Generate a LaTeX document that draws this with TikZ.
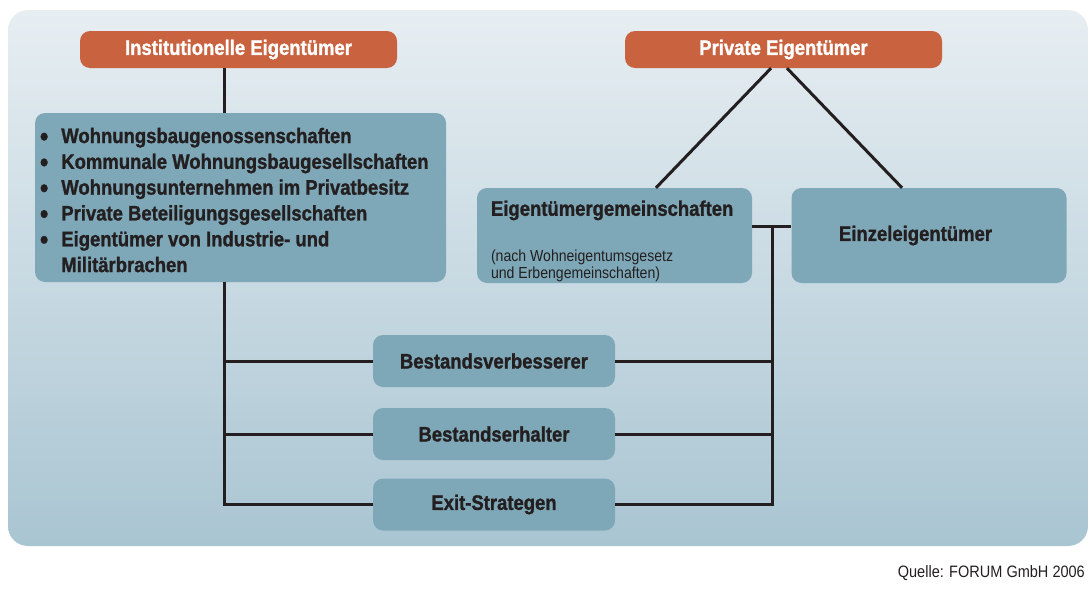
\documentclass[tikz,border=0pt]{standalone}
\usepackage{fontspec}
\setmainfont{Liberation Sans}[FakeStretch=0.88, BoldFeatures={FakeBold=1.2}]
\usetikzlibrary{calc}
\definecolor{kopfrot}{HTML}{C8623F}
\definecolor{kastenblau}{HTML}{7EA8B7}
\definecolor{hgoben}{HTML}{E7EEF2}
\definecolor{hgunten}{HTML}{A9C5D2}
\definecolor{schrift}{HTML}{231F20}

\begin{document}
\begin{tikzpicture}[x=1pt, y=-1pt, line join=miter]

% --------- Stile ----------
\tikzset{
  kopf/.style={fill=kopfrot, rounded corners=10pt, minimum width=317pt, minimum height=37pt,
    inner sep=0pt, text=white, font=\fontsize{21}{24}\selectfont\bfseries},
  kasten/.style={fill=kastenblau, rounded corners=10pt, inner sep=0pt, text=schrift,
    font=\fontsize{21}{25.8}\selectfont\bfseries},
  typ/.style={kasten, minimum width=242pt, minimum height=52pt},
  notiz/.style={text=schrift, inner sep=0pt},
  linie/.style={line width=3pt, draw=schrift, line cap=butt}
}
\def\lx{224}   % linke Sammelleitung
\def\rx{772}   % rechte Sammelleitung
\newcommand{\punkt}{\raisebox{-2.5pt}{\fontsize{27}{0}\selectfont\textbullet}}

\useasboundingbox (0,0) rectangle (1089,597);

% Hintergrund
\shade[top color=hgoben, bottom color=hgunten, rounded corners=20pt] (8,10) rectangle (1088,546);

% ===================== Eigentümer =====================
\node[kopf] (inst) at (238.5,49.5) {Institutionelle Eigentümer};
\node[kopf] (priv) at (783.5,49.5) {Private Eigentümer};

\node[kasten, minimum width=411pt, minimum height=169pt] (liste) at (240.5,197.5) {};
\node[notiz, anchor=north west, font=\fontsize{21}{25.8}\selectfont\bfseries]
  (listtext) at ($(liste.north west)+(5,12)$) {%
  \begin{tabular}{@{}l@{\hspace{13pt}}l@{}}
  \punkt & Wohnungsbaugenossenschaften\\
  \punkt & Kommunale Wohnungsbaugesellschaften\\
  \punkt & Wohnungsunternehmen im Privatbesitz\\
  \punkt & Private Beteiligungsgesellschaften\\
  \punkt & Eigentümer von Industrie- und\\
         & Militärbrachen
  \end{tabular}};

\node[kasten, minimum width=275pt, minimum height=95pt] (eg) at (614.5,235.5) {};
\node[notiz, anchor=base west, font=\fontsize{21}{24}\selectfont\bfseries]
  (egtitel) at ($(eg.north west)+(14,28)$) {Eigentümergemeinschaften};
\node[notiz, anchor=north west, align=left, font=\fontsize{16}{16.5}\selectfont]
  (egnote) at ($(eg.north west)+(14,62)$) {(nach Wohneigentumsgesetz\\und Erbengemeinschaften)};

\node[kasten, minimum width=275pt, minimum height=95pt, text width=180pt, inner xsep=47.5pt, align=left]
  (einzel) at (929,235.5) {Einzeleigentümer};

% ===================== Strategietypen =====================
\node[typ] (verb) at (494,361) {Bestandsverbesserer};
\node[typ] (erh)  at (494,434) {Bestandserhalter};
\node[typ] (exit) at (494,504.5) {Exit-Strategen};

% Verbindungen
\coordinate (lk) at (\lx,0);
\coordinate (rk) at (\rx,226);
\draw[linie] (inst.south -| lk) -- (liste.north -| lk);
\draw[linie] (liste.south -| lk) |- (exit.west);
\draw[linie] (verb.west -| lk) -- (verb.west);
\draw[linie] (erh.west -| lk) -- (erh.west);

\draw[linie] ($(priv.south)+(-12.5,0)$) -- ($(eg.north)+(41.5,0)$);
\draw[linie] ($(priv.south)+(3.5,0)$) -- ($(einzel.north)+(-27,0)$);
\draw[linie] (eg.east |- rk) -- (einzel.west |- rk);
\draw[linie] (rk) |- (exit.east);
\draw[linie] (verb.east) -- (verb.east -| rk);
\draw[linie] (erh.east) -- (erh.east -| rk);

\node[notiz, anchor=base east, font=\fontsize{16.5}{18}\selectfont] (quelle) at (1085,577) {Quelle: FORUM GmbH 2006};

\end{tikzpicture}
\end{document}
